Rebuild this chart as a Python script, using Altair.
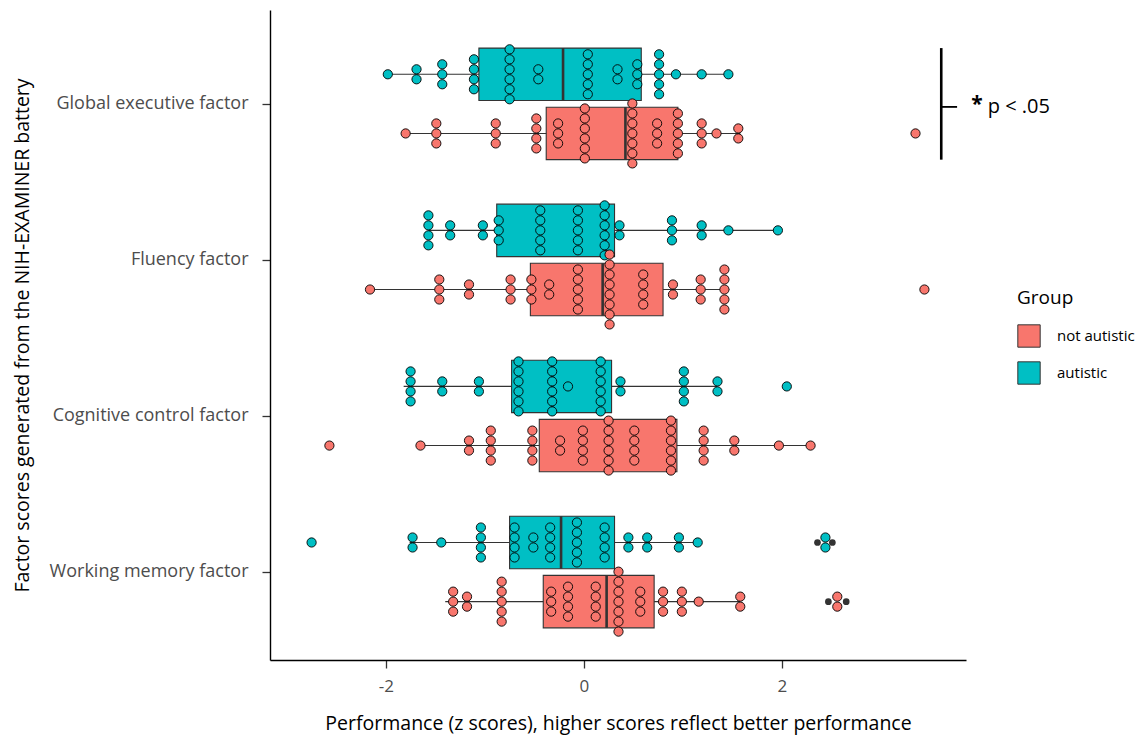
import altair as alt
import pandas as pd

FACTORS = ["Global executive factor", "Fluency factor", "Cognitive control factor", "Working memory factor"]
GROUPS = ["not autistic", "autistic"]
COLORS = ["#F8766D", "#00BFC4"]

# ---- dot columns (binned z value, number of stacked dots) ----
GE_AUT_X = [-1.98, -1.69, -1.43, -1.11, -0.75, -0.46, 0.04, 0.34, 0.54, 0.76, 0.93, 1.19, 1.46]
GE_AUT_N = [1, 2, 3, 4, 6, 2, 5, 2, 3, 5, 1, 1, 1]
GE_NA_X = [-1.80, -1.49, -0.89, -0.48, -0.26, 0.01, 0.49, 0.74, 0.95, 1.19, 1.34, 1.56, 3.35]
GE_NA_N = [1, 3, 3, 4, 3, 6, 7, 3, 5, 3, 1, 2, 1]
FL_AUT_X = [-1.57, -1.35, -1.02, -0.86, -0.44, -0.06, 0.21, 0.36, 0.89, 1.19, 1.46, 1.96]
FL_AUT_N = [4, 2, 2, 3, 5, 5, 6, 2, 3, 2, 1, 1]
FL_NA_X = [-2.16, -1.46, -1.16, -0.74, -0.53, -0.35, -0.06, 0.26, 0.60, 0.90, 1.18, 1.42, 3.44]
FL_NA_N = [1, 3, 2, 3, 3, 2, 5, 8, 4, 2, 3, 5, 1]
CC_AUT_X = [-1.75, -1.43, -1.06, -0.66, -0.32, -0.16, 0.17, 0.37, 1.01, 1.35, 2.05]
CC_AUT_N = [4, 2, 2, 6, 6, 1, 6, 2, 4, 2, 1]
CC_NA_X = [-2.57, -1.65, -1.16, -0.94, -0.52, -0.24, -0.01, 0.25, 0.51, 0.88, 1.21, 1.52, 1.97, 2.29]
CC_NA_N = [1, 1, 2, 4, 4, 2, 4, 6, 4, 6, 4, 2, 1, 1]
WM_AUT_X = [-2.75, -1.73, -1.44, -1.04, -0.70, -0.51, -0.34, -0.07, 0.21, 0.45, 0.64, 0.96, 1.15, 2.44]
WM_AUT_N = [1, 2, 1, 4, 4, 2, 4, 5, 4, 2, 2, 2, 1, 2]
WM_NA_X = [-1.32, -1.18, -0.83, -0.33, -0.16, 0.12, 0.35, 0.57, 0.80, 0.99, 1.16, 1.58, 2.56]
WM_NA_N = [3, 2, 5, 3, 4, 4, 7, 3, 3, 3, 1, 2, 2]

# ---- box statistics ----
BOX_FACTOR = [FACTORS[0], FACTORS[0], FACTORS[1], FACTORS[1], FACTORS[2], FACTORS[2], FACTORS[3], FACTORS[3]]
BOX_GROUP = ["autistic", "not autistic"] * 4
BOX_LO = [-1.98, -1.80, -1.57, -2.16, -1.82, -1.65, -1.76, -1.40]
BOX_Q1 = [-1.06, -0.38, -0.88, -0.54, -0.73, -0.45, -0.75, -0.41]
BOX_MED = [-0.21, 0.42, 0.22, 0.19, -0.32, 0.25, -0.23, 0.23]
BOX_Q3 = [0.58, 0.95, 0.31, 0.80, 0.28, 0.94, 0.31, 0.71]
BOX_HI = [1.48, 1.58, 1.96, 1.47, 1.35, 2.30, 1.15, 1.58]

# ---- boxplot outliers ----
OUT_FACTOR = [FACTORS[0], FACTORS[1], FACTORS[2], FACTORS[2], FACTORS[3], FACTORS[3], FACTORS[3], FACTORS[3], FACTORS[3]]
OUT_GROUP = ["not autistic", "not autistic", "not autistic", "autistic", "autistic", "autistic", "autistic",
             "not autistic", "not autistic"]
OUT_X = [3.35, 3.44, -2.57, 2.05, -2.75, 2.36, 2.51, 2.47, 2.65]

SIG_LABEL = "p < .05"

# ---- layout helpers (positions on a numeric y scale) ----
FACTOR_POS = {FACTORS[0]: 4, FACTORS[1]: 3, FACTORS[2]: 2, FACTORS[3]: 1}
GROUP_OFF = {"autistic": 0.189, "not autistic": -0.19}
STEP = 0.064
HALF = 0.168

dot_sets = [
    (FACTORS[0], "autistic", GE_AUT_X, GE_AUT_N), (FACTORS[0], "not autistic", GE_NA_X, GE_NA_N),
    (FACTORS[1], "autistic", FL_AUT_X, FL_AUT_N), (FACTORS[1], "not autistic", FL_NA_X, FL_NA_N),
    (FACTORS[2], "autistic", CC_AUT_X, CC_AUT_N), (FACTORS[2], "not autistic", CC_NA_X, CC_NA_N),
    (FACTORS[3], "autistic", WM_AUT_X, WM_AUT_N), (FACTORS[3], "not autistic", WM_NA_X, WM_NA_N),
]
rows = []
for f, g, xs, ns in dot_sets:
    c = FACTOR_POS[f] + GROUP_OFF[g]
    for x, n in zip(xs, ns):
        for i in range(n):
            rows.append({"Factor": f, "Group": g, "z": x, "y": c + (i - (n - 1) / 2) * STEP})
dots = pd.DataFrame(rows)

box = pd.DataFrame({"Factor": BOX_FACTOR, "Group": BOX_GROUP, "lo": BOX_LO, "q1": BOX_Q1,
                    "med": BOX_MED, "q3": BOX_Q3, "hi": BOX_HI})
box["yc"] = [FACTOR_POS[f] + GROUP_OFF[g] for f, g in zip(box.Factor, box.Group)]
box["ylo"] = box.yc - HALF
box["yhi"] = box.yc + HALF

outl = pd.DataFrame({"Factor": OUT_FACTOR, "Group": OUT_GROUP, "z": OUT_X})
outl["y"] = [FACTOR_POS[f] + GROUP_OFF[g] for f, g in zip(outl.Factor, outl.Group)]

ge = box[box.Factor == FACTORS[0]]
br_x = 3.61
ymid = FACTOR_POS[FACTORS[0]] - 0.02
bracket = pd.DataFrame({"x": [br_x], "ytop": [ge.yhi.max()], "ybot": [ge.ylo.min()]})
btick = pd.DataFrame({"x": [br_x], "x2": [br_x + 0.16], "y": [ymid]})
stars = pd.DataFrame({"x": [br_x + 0.36], "y": [ymid], "t": ["*"]})
ptext = pd.DataFrame({"x": [br_x + 0.47], "y": [ymid], "t": [SIG_LABEL]})

XDOM = [-3.17, 3.86]
YDOM = [0.436, 4.601]

label_expr = ("datum.value == 4 ? '%s' : datum.value == 3 ? '%s' : datum.value == 2 ? '%s' : '%s'"
              % tuple(FACTORS))


def X(field):
    return alt.X(field, type="quantitative", scale=alt.Scale(domain=XDOM, nice=False, zero=False),
                 axis=alt.Axis(values=[-2, 0, 2], grid=False, labelExpr="'' + datum.value",
                               title="Performance (z scores), higher scores reflect better performance"))


def Y(field):
    return alt.Y(field, type="quantitative", scale=alt.Scale(domain=YDOM, nice=False, zero=False),
                 axis=alt.Axis(values=[1, 2, 3, 4], grid=False, labelExpr=label_expr, labelLimit=400,
                               title="Factor scores generated from the NIH-EXAMINER battery"))


legend = alt.Legend(title="Group", orient="none", legendX=747, legendY=279, symbolType="square",
                    symbolSize=500, symbolStrokeColor="#333333", symbolStrokeWidth=1, padding=0,
                    titleFontSize=19, titleFontWeight="normal", titleColor="black", titlePadding=16,
                    labelFontSize=15, labelColor="black", labelOffset=16, rowPadding=9)
FILL = alt.Fill("Group:N", scale=alt.Scale(domain=GROUPS, range=COLORS), legend=legend)

whisk = alt.Chart(box).mark_rule(color="#333333", strokeWidth=1.1).encode(
    x=X("lo"), x2="hi", y=Y("yc"))
boxes = alt.Chart(box).mark_rect(stroke="#333333", strokeWidth=1.1, opacity=1).encode(
    x=X("q1"), x2="q3", y=Y("ylo"), y2="yhi", fill=FILL)
meds = alt.Chart(box).mark_rule(color="#333333", strokeWidth=2.6).encode(
    x=X("med"), y=Y("ylo"), y2="yhi")
outs = alt.Chart(outl).mark_circle(color="#333333", size=45, opacity=1).encode(
    x=X("z"), y=Y("y"))
pts = alt.Chart(dots).mark_point(filled=True, shape="circle", size=85, stroke="black",
                                 strokeWidth=0.9, opacity=1).encode(
    x=X("z"), y=Y("y"), fill=FILL)
vbr = alt.Chart(bracket).mark_rule(color="black", strokeWidth=2.6).encode(
    x=X("x"), y=Y("ytop"), y2="ybot")
hbr = alt.Chart(btick).mark_rule(color="black", strokeWidth=1.8).encode(
    x=X("x"), x2="x2", y=Y("y"))
star = alt.Chart(stars).mark_text(fontSize=21, fontWeight="bold", color="black", align="center",
                                  baseline="middle", dy=-2).encode(x=X("x"), y=Y("y"), text="t:N")
ptx = alt.Chart(ptext).mark_text(fontSize=20, color="black", align="left", baseline="middle").encode(
    x=X("x"), y=Y("y"), text="t:N")

chart = alt.layer(whisk, boxes, meds, outs, pts, vbr, hbr, star, ptx).properties(
    width=696, height=650,
    padding={"left": 4, "top": 2, "right": 0, "bottom": 4},
).configure(font="Open Sans").configure_view(stroke=None).configure_axis(
    domainColor="black", domainWidth=1.4, tickColor="#333333", tickWidth=1.3, tickSize=8,
    labelFontSize=17, labelColor="#4d4d4d", titleFontSize=19.5, titleColor="black",
    titleFontWeight="normal",
).configure_axisX(labelPadding=10, titlePadding=20).configure_axisY(
    labelPadding=14, titlePadding=38, labelFontSize=18)

chart.save("out.html", embed_options={"renderer": "svg", "actions": False})
